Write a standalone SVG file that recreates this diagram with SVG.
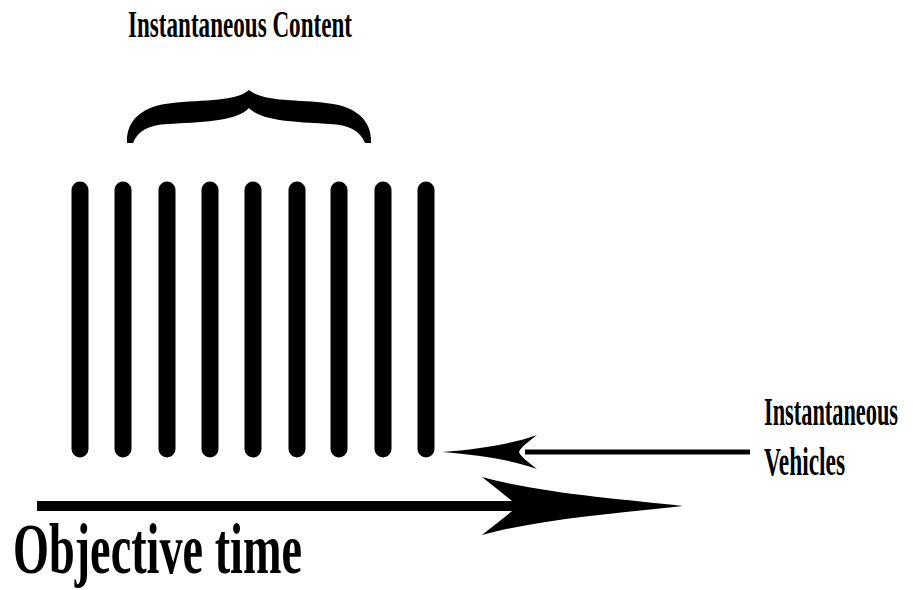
<svg xmlns="http://www.w3.org/2000/svg" width="913" height="590" viewBox="0 0 913 590">
<style>
.lbl{font-family:"Liberation Serif","Times New Roman",serif;font-weight:bold;fill:#000}
.bar{stroke:#000;stroke-width:17;stroke-linecap:round}
.shaft{stroke:#000;fill:none}
.head{fill:#000}
</style>
<rect width="913" height="590" fill="#fff"/>
<g id="title">
<text class="lbl" x="128" y="37" font-size="37" textLength="224" lengthAdjust="spacingAndGlyphs">Instantaneous Content</text>
</g>
<g id="brace">
<path d="M127,143 C126,121 141,108 165,104 C196,99 234,103 249,90 C264,103 302,99 333,104 C357,108 372,121 371,143 L365,143 C360,130 348,125 330,124 C300,122 262,122 249,108 C236,122 198,122 168,124 C150,125 138,130 133,143 Z" fill="#000"/>
</g>
<g id="bars">
<line class="bar" x1="80" y1="190" x2="80" y2="449"/>
<line class="bar" x1="123" y1="190" x2="123" y2="449"/>
<line class="bar" x1="167" y1="190" x2="167" y2="449"/>
<line class="bar" x1="210" y1="190" x2="210" y2="449"/>
<line class="bar" x1="253" y1="190" x2="253" y2="449"/>
<line class="bar" x1="297" y1="190" x2="297" y2="449"/>
<line class="bar" x1="339" y1="190" x2="339" y2="449"/>
<line class="bar" x1="383" y1="190" x2="383" y2="449"/>
<line class="bar" x1="426" y1="190" x2="426" y2="449"/>
</g>
<g id="vehicles-label">
<text class="lbl" x="764" y="425" font-size="40" textLength="134" lengthAdjust="spacingAndGlyphs">Instantaneous</text>
<text class="lbl" x="764" y="475" font-size="40" textLength="81" lengthAdjust="spacingAndGlyphs">Vehicles</text>
</g>
<g id="time-label">
<text class="lbl" x="13" y="573" font-size="71" textLength="289" lengthAdjust="spacingAndGlyphs">Objective time</text>
</g>
<g id="connectors">
<line class="shaft" x1="525" y1="452" x2="750" y2="452" stroke-width="5"/>
<path class="head" d="M442,452 C480,449 512,444 537,435 C528,442 521,447 519,452 C521,457 528,462 537,469 C512,460 480,455 442,452 Z"/>
<line class="shaft" x1="37" y1="506" x2="525" y2="506" stroke-width="10"/>
<path class="head" d="M683,506 C620,499 540,493 482,477 C497,489 510,499 518,506 C510,513 497,523 482,535 C540,519 620,513 683,506 Z"/>
</g>
</svg>
